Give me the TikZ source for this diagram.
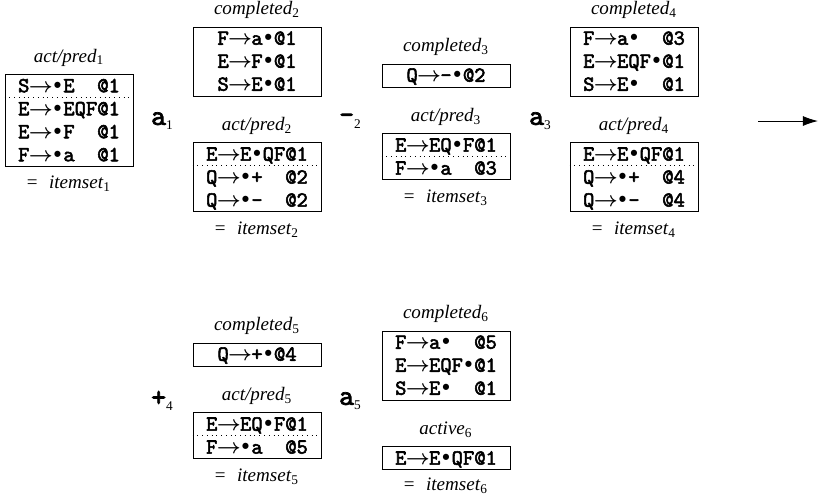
\documentclass[tikz,border=0pt]{standalone}
\usepackage{fontspec}
\setmainfont{Liberation Serif}
\setmonofont{lmmono10-regular.otf}[BoldFont=lmmono10-regular.otf, BoldFeatures={FakeBold=2.5}]
\newfontfamily\bulfont{Liberation Mono}
\usetikzlibrary{arrows.meta,positioning}

\newcommand\itm[2]{\rule[-2.75pt]{0pt}{12.075pt}#1\makebox[1.05em]{\boldmath$\rightarrow$}#2}
\newcommand\dt{\makebox[0.525em]{\bulfont\bfseries •}}
\newcommand\lab[2]{\textit{#1}\textsubscript{#2}}
\newcommand\eqset[1]{=\hspace{6pt}\textit{itemset}\textsubscript{#1}}
\newcommand\sym[2]{#1\raisebox{-2.5pt}{\normalfont\fontsize{7}{8}\selectfont #2}}
\newcommand\sepline[1]{\draw[sep] ([yshift=-12.075pt]#1.north west) -- ([yshift=-12.075pt]#1.north east);}

\begin{document}
\begin{tikzpicture}[x=0.525pt, y=-0.525pt, node distance=24.15pt,
  bx/.style={draw, line width=0.45pt, minimum width=67.2pt, inner sep=0pt, align=center,
    font=\fontsize{11.3}{12.075}\selectfont\ttfamily\bfseries},
  lbl/.style={anchor=base, inner sep=0pt, font=\fontsize{10}{12}\selectfont},
  sy/.style={inner sep=0pt, font=\fontsize{15}{17}\selectfont\ttfamily\bfseries},
  sep/.style={dotted, line width=0.5pt},
  ar/.style={-{Latex[length=7.9pt,width=5.2pt]}, line width=0.5pt}]
\useasboundingbox (0,0) rectangle (818,497);

% itemset 1
\node[bx] (b1) at (69,120.5) {\itm{S}{\dt E\ \ @1}\\\itm{E}{\dt EQF@1}\\\itm{E}{\dt F\ \ @1}\\\itm{F}{\dt a\ \ @1}};
\node[above=6.3pt of b1, lbl] (lb1) {\lab{act/pred}{1}};
\node[below=11.5pt of b1, lbl] (eq1) {\eqset{1}};
\sepline{b1}
\node[sy] (s1) at (162,121) {\sym{a}{1}};

% itemset 2
\node[bx] (c2) at (257,61.5) {\itm{F}{a\dt@1}\\\itm{E}{F\dt@1}\\\itm{S}{E\dt@1}};
\node[bx, below=of c2] (p2) {\itm{E}{E\dt QF@1}\\\itm{Q}{\dt+\ \ @2}\\\itm{Q}{\dt-\ \ @2}};
\node[above=6.3pt of c2, lbl] (lc2) {\lab{completed}{2}};
\node[above=6.3pt of p2, lbl] (lp2) {\lab{act/pred}{2}};
\node[below=11.5pt of p2, lbl] (eq2) {\eqset{2}};
\sepline{p2}
\node[sy] (s2) at (350,121) {\sym{-}{2}};

% itemset 3
\node[bx] (c3) at (446,75.5) {\itm{Q}{-\dt@2}};
\node[bx, below=of c3] (p3) {\itm{E}{EQ\dt F@1}\\\itm{F}{\dt a\ \ @3}};
\node[above=6.3pt of c3, lbl] (lc3) {\lab{completed}{3}};
\node[above=6.3pt of p3, lbl] (lp3) {\lab{act/pred}{3}};
\node[below=11.5pt of p3, lbl] (eq3) {\eqset{3}};
\sepline{p3}
\node[sy] (s3) at (540,121) {\sym{a}{3}};

% itemset 4
\node[bx] (c4) at (634,61.5) {\itm{F}{a\dt\ \ @3}\\\itm{E}{EQF\dt@1}\\\itm{S}{E\dt\ \ @1}};
\node[bx, below=of c4] (p4) {\itm{E}{E\dt QF@1}\\\itm{Q}{\dt+\ \ @4}\\\itm{Q}{\dt-\ \ @4}};
\node[above=6.3pt of c4, lbl] (lc4) {\lab{completed}{4}};
\node[above=6.3pt of p4, lbl] (lp4) {\lab{act/pred}{4}};
\node[below=11.5pt of p4, lbl] (eq4) {\eqset{4}};
\sepline{p4}
\coordinate (o1) at (758,121);
\coordinate (o2) at (818,121);
\draw[ar] (o1) -- (o2);

% second row
\node[sy] (s4) at (162,401) {\sym{+}{4}};
\node[bx] (c5) at (257,354.5) {\itm{Q}{+\dt@4}};
\node[bx, below=of c5] (p5) {\itm{E}{EQ\dt F@1}\\\itm{F}{\dt a\ \ @5}};
\node[above=6.3pt of c5, lbl] (lc5) {\lab{completed}{5}};
\node[above=6.3pt of p5, lbl] (lp5) {\lab{act/pred}{5}};
\node[below=11.5pt of p5, lbl] (eq5) {\eqset{5}};
\sepline{p5}
\node[sy] (s5) at (350,401) {\sym{a}{5}};

\node[bx] (c6) at (446,365.5) {\itm{F}{a\dt\ \ @5}\\\itm{E}{EQF\dt@1}\\\itm{S}{E\dt\ \ @1}};
\node[bx, below=of c6] (p6) {\itm{E}{E\dt QF@1}};
\node[above=6.3pt of c6, lbl] (lc6) {\lab{completed}{6}};
\node[above=6.3pt of p6, lbl] (lp6) {\lab{active}{6}};
\node[below=10.5pt of p6, lbl] (eq6) {\eqset{6}};
\sepline{p6}
\end{tikzpicture}
\end{document}
